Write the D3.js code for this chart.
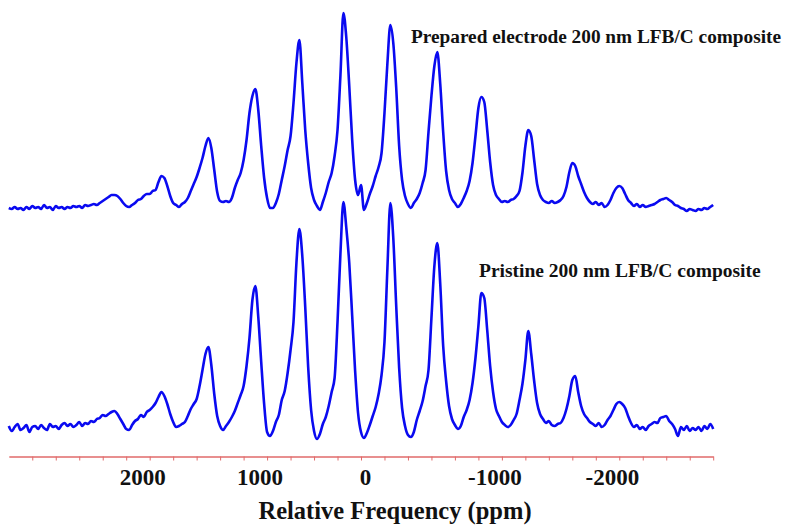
<!DOCTYPE html>
<html>
<head>
<meta charset="utf-8">
<script src="https://cdn.jsdelivr.net/npm/d3@7"></script>
<style>
  body { margin: 0; background: #fff; }
  .trace { fill: none; stroke: #0a0af0; stroke-width: 2.6; stroke-linejoin: round; }
  .lbl { font-family: "Liberation Serif", "Times New Roman", serif; font-weight: bold; fill: #111; }
</style>
</head>
<body>
<script>

var width = 791;
var height = 525;

// chemical shift axis, one sample every 25 ppm from 3000 to -3000
var ppm = d3.range(3000, -3001, -25);

// intensities (a.u.), baseline = 0
var prepared = [
  0,-1,1,-1,0,-2,1,-1,2,0, 1,-1,3,0,1,-2,2,0,1,-1, 1,0,2,1,2,0,3,2,3,4, 3,
  5,7,9,11,13,13,12,9,5,2, 1,3,5,8,9,12,14,14,17,18, 26,
  32,30,22,12,5,3,1,4,
  6,10,17,24,31,40,50,62,70,60,38,16,7,6,7,6,
  10,20,28,35,48,68,95,112,119,98,62,30,10,0,0,
  5,14,28,42,58,72,105,145,168,125,78,45,20,8,2,-2,
  6,15,26,35,52,78,133,195,170,122,68,28,13,23,-2,
  5,14,22,32,41,55,95,145,183,165,120,62,28,12,4,0,
  5,9,15,25,38,76,112,142,156,124,76,37,18,9,5,1,
  4,10,17,27,45,72,100,111,106,78,46,23,13,9,6,7,6,
  8,9,12,17,35,62,78,72,48,24,13,8,6,5,7,5,
  6,8,12,21,36,45,42,32,24,16,10,6,4,6,3,5,1,
  3,8,15,20,22,20,14,8,5,2, 4,1,3,1,2,3,4,6,8,9, 10,8,6,3,2,0,-1,-3,-1,-2, -3,-1,-2,0,-1,1,3
];

var pristine = [
  2,-3,1,4,-2,0,3,-4,1,2, -1,3,0,-2,4,1,2,-1,3,5, 2,4,1,3,6,2,5,4,7,6, 9,
  10,13,12,14,16,17,14,9,4,-1, -2,3,7,9,13,11,16,18,21,25, 31,36,32,24,14,6,1,
  2,4,6,12,19,24,29,42,58,74, 81,63,34,12,2,-2,2,6,
  11,17,25,33,42,62,90,128,142,111,66,24,-4,-8,-3,
  6,13,28,37,55,78,106,165,199,172,121,61,18,-3,-11,-6,
  4,11,22,36,50,106,175,226,200,165,112,57,15,-4,-10,-5,
  3,12,21,34,53,86,160,225,190,122,60,20,2,-7,-9,-4,
  8,17,27,42,58,110,162,185,144,82,47,22,9,3,-1,2,
  11,18,28,45,70,102,135,130,98,62,36,19,12,6,3,1,
  3,8,14,28,44,68,97,74,47,25,14,9,5,7,3,2,
  4,5,10,19,32,48,52,36,22,14,10,6,4,2,5,1,
  3,8,12,18,24,26,24,20,12,5, 1,3,-1,1,-2,2,4,6,5,10, 11,12,7,4,-1,-8,1,-2,2,-3, 0,-2,1,-3,2,-1,4,-1
];

var tickVals = d3.range(-3000, 2801, 200);
var labelVals = [2000, 1000, 0, -1000, -2000];
var xTitle = 'Relative Frequency (ppm)';
var preparedName = 'Prepared electrode 200 nm LFB/C composite';
var pristineName = 'Pristine 200 nm LFB/C composite';

var svg = d3.select('body').append('svg')
  .attr('width', width)
  .attr('height', height);

var x = d3.scaleLinear()
  .domain([3000, -3000])
  .range([8.8, 713.2]);

var yTop = d3.scaleLinear().domain([0, 200]).range([208, 8]);
var yBot = d3.scaleLinear().domain([0, 230]).range([428, 198]);

function line(y) {
  return d3.line()
    .x(function (d, i) { return x(ppm[i]); })
    .y(function (d) { return y(d); })
    .curve(d3.curveMonotoneX);
}

svg.append('path')
  .datum(prepared)
  .attr('class', 'trace')
  .attr('d', line(yTop));

svg.append('path')
  .datum(pristine)
  .attr('class', 'trace')
  .attr('d', line(yBot));

// axis
var axis = svg.append('g')
  .attr('transform', 'translate(0,456.5)')
  .call(d3.axisBottom(x)
    .tickValues(tickVals)
    .tickSize(4)
    .tickSizeOuter(0)
    .tickPadding(8)
    .tickFormat(function (d) { return labelVals.indexOf(d) >= 0 ? String(d) : ''; }));

axis.select('.domain').attr('stroke', '#e06a6a').attr('stroke-width', 1.3);
axis.selectAll('.tick line').attr('stroke', '#e06a6a').attr('stroke-width', 1);
axis.selectAll('.tick text')
  .attr('class', 'lbl')
  .style('font-size', '23px')
  .attr('fill', '#111')
  .attr('dx', function (d) { return d === 0 ? 4 : 16; });

svg.append('text')
  .attr('class', 'lbl')
  .attr('x', 395)
  .attr('y', 519)
  .attr('text-anchor', 'middle')
  .style('font-size', '24.5px')
  .text(xTitle);

svg.append('text')
  .attr('class', 'lbl')
  .attr('x', 411)
  .attr('y', 43)
  .style('font-size', '19.3px')
  .text(preparedName);

svg.append('text')
  .attr('class', 'lbl')
  .attr('x', 479)
  .attr('y', 277)
  .style('font-size', '19.5px')
  .text(pristineName);

</script>
</body>
</html>
